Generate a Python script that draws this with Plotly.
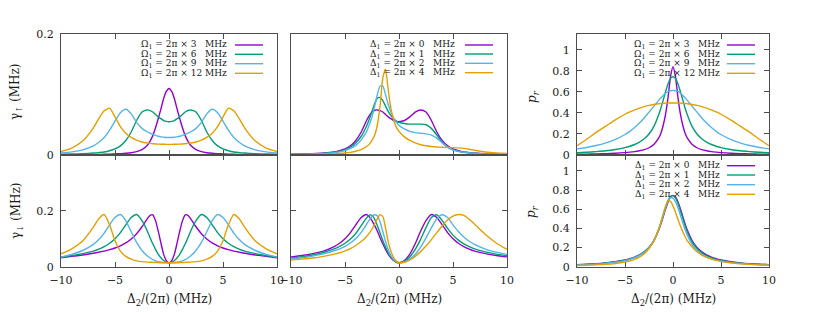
import plotly.graph_objects as go

# ---------------- data ----------------
X_LEFT = [-10, -9, -8, -7, -6.5, -6, -5.5, -5, -4.5, -4, -3.5, -3, -2.5, -2, -1.75, -1.5, -1.25, -1, -0.75, -0.5, -0.25,
          0, 0.25, 0.5, 0.75, 1, 1.25, 1.5, 1.75, 2, 2.5, 3, 3.5, 4, 4.5, 5, 5.5, 6, 6.5, 7, 8, 9, 10]

UP_W3 = [0.0004, 0.0005, 0.0007, 0.0009, 0.001, 0.0012, 0.0015, 0.0018, 0.0022, 0.0028, 0.0038, 0.0055, 0.009, 0.016, 0.023, 0.032, 0.045, 0.060, 0.076, 0.093, 0.105,
         0.110, 0.105, 0.093, 0.076, 0.060, 0.045, 0.032, 0.023, 0.016, 0.009, 0.0055, 0.0038, 0.0028, 0.0022, 0.0018, 0.0015, 0.0012, 0.001, 0.0009, 0.0007, 0.0005, 0.0004]
UP_W6 = [0.0012, 0.0016, 0.0022, 0.0032, 0.004, 0.005, 0.007, 0.010, 0.015, 0.024, 0.038, 0.057, 0.071, 0.0745, 0.0735, 0.071, 0.067, 0.063, 0.060, 0.057, 0.0555,
         0.055, 0.0555, 0.057, 0.060, 0.063, 0.067, 0.071, 0.0735, 0.0745, 0.071, 0.057, 0.038, 0.024, 0.015, 0.010, 0.007, 0.005, 0.004, 0.0032, 0.0022, 0.0016, 0.0012]
UP_W9 = [0.0032, 0.0052, 0.0085, 0.015, 0.021, 0.029, 0.041, 0.056, 0.070, 0.0755, 0.068, 0.054, 0.044, 0.038, 0.036, 0.034, 0.0325, 0.031, 0.030, 0.0295, 0.029,
         0.029, 0.029, 0.0295, 0.030, 0.031, 0.0325, 0.034, 0.036, 0.038, 0.044, 0.054, 0.068, 0.0755, 0.070, 0.056, 0.041, 0.029, 0.021, 0.015, 0.0085, 0.0052, 0.0032]
UP_W12 = [0.0058, 0.0115, 0.023, 0.045, 0.060, 0.073, 0.0775, 0.063, 0.047, 0.036, 0.029, 0.0245, 0.0215, 0.0198, 0.0192, 0.0187, 0.0183, 0.018, 0.0178, 0.0177, 0.0176,
          0.0176, 0.0176, 0.0177, 0.0178, 0.018, 0.0183, 0.0187, 0.0192, 0.0198, 0.0215, 0.0245, 0.029, 0.036, 0.047, 0.063, 0.0775, 0.073, 0.060, 0.045, 0.023, 0.0115, 0.0058]

DN_W3 = [0.032, 0.037, 0.042, 0.048, 0.052, 0.056, 0.061, 0.067, 0.075, 0.085, 0.099, 0.118, 0.143, 0.172, 0.184, 0.186, 0.165, 0.128, 0.085, 0.045, 0.022,
         0.014, 0.022, 0.045, 0.085, 0.128, 0.165, 0.186, 0.184, 0.172, 0.143, 0.118, 0.099, 0.085, 0.075, 0.067, 0.061, 0.056, 0.052, 0.048, 0.042, 0.037, 0.032]
DN_W6 = [0.035, 0.040, 0.047, 0.056, 0.063, 0.072, 0.084, 0.100, 0.122, 0.150, 0.176, 0.187, 0.165, 0.127, 0.104, 0.082, 0.062, 0.045, 0.032, 0.022, 0.016,
         0.014, 0.016, 0.022, 0.032, 0.045, 0.062, 0.082, 0.104, 0.127, 0.165, 0.187, 0.176, 0.150, 0.122, 0.100, 0.084, 0.072, 0.063, 0.056, 0.047, 0.040, 0.035]
DN_W9 = [0.034, 0.044, 0.058, 0.080, 0.097, 0.120, 0.150, 0.176, 0.187, 0.165, 0.125, 0.087, 0.058, 0.038, 0.031, 0.025, 0.021, 0.018, 0.0165, 0.015, 0.0145,
         0.014, 0.0145, 0.015, 0.0165, 0.018, 0.021, 0.025, 0.031, 0.038, 0.058, 0.087, 0.125, 0.165, 0.187, 0.176, 0.150, 0.120, 0.097, 0.080, 0.058, 0.044, 0.034]
DN_W12 = [0.046, 0.064, 0.092, 0.142, 0.172, 0.187, 0.150, 0.093, 0.056, 0.037, 0.027, 0.021, 0.018, 0.0165, 0.016, 0.0155, 0.015, 0.0145, 0.0142, 0.014, 0.014,
          0.014, 0.014, 0.014, 0.0142, 0.0145, 0.015, 0.0155, 0.016, 0.0165, 0.018, 0.021, 0.027, 0.037, 0.056, 0.093, 0.150, 0.187, 0.172, 0.142, 0.092, 0.064, 0.046]

X_MID = [-10, -9, -8, -7, -6, -5.5, -5, -4.5, -4, -3.5, -3, -2.75, -2.5, -2.25, -2, -1.75, -1.5, -1.25, -1, -0.75, -0.5, -0.25,
         0, 0.5, 1, 1.5, 2, 2.5, 3, 3.5, 4, 4.5, 5, 5.5, 6, 6.5, 7, 8, 9, 10]

UP_D0 = [0.0012, 0.0016, 0.0022, 0.0032, 0.005, 0.007, 0.010, 0.015, 0.024, 0.038, 0.057, 0.065, 0.071, 0.074, 0.0745, 0.0735, 0.071, 0.067, 0.063, 0.060, 0.057, 0.0555,
         0.055, 0.057, 0.063, 0.071, 0.0745, 0.071, 0.057, 0.038, 0.024, 0.015, 0.010, 0.007, 0.005, 0.004, 0.0032, 0.0022, 0.0016, 0.0012]
UP_D1 = [0.001, 0.0013, 0.0018, 0.0027, 0.0045, 0.0062, 0.009, 0.013, 0.020, 0.031, 0.048, 0.059, 0.072, 0.085, 0.094, 0.095, 0.090, 0.081, 0.072, 0.065, 0.060, 0.056,
         0.054, 0.052, 0.051, 0.051, 0.051, 0.050, 0.044, 0.033, 0.021, 0.013, 0.0085, 0.006, 0.0045, 0.0035, 0.0028, 0.0019, 0.0014, 0.001]
UP_D2 = [0.0009, 0.0012, 0.0016, 0.0024, 0.0038, 0.0052, 0.0075, 0.011, 0.016, 0.025, 0.039, 0.050, 0.063, 0.081, 0.100, 0.114, 0.114, 0.100, 0.084, 0.071, 0.061, 0.054,
         0.049, 0.043, 0.039, 0.037, 0.036, 0.035, 0.033, 0.028, 0.020, 0.013, 0.0085, 0.006, 0.0045, 0.0035, 0.0028, 0.0019, 0.0014, 0.001]
UP_D4 = [0.0005, 0.0006, 0.0008, 0.0012, 0.0018, 0.0024, 0.0032, 0.0044, 0.0062, 0.009, 0.014, 0.018, 0.024, 0.033, 0.050, 0.082, 0.127, 0.142, 0.108, 0.077, 0.058, 0.046,
         0.039, 0.030, 0.024, 0.020, 0.017, 0.0152, 0.014, 0.0133, 0.0128, 0.0125, 0.0122, 0.0118, 0.011, 0.0096, 0.0078, 0.005, 0.0033, 0.0024]

DN_D0 = [0.035, 0.040, 0.047, 0.056, 0.072, 0.084, 0.100, 0.122, 0.150, 0.176, 0.187, 0.179, 0.165, 0.147, 0.127, 0.104, 0.082, 0.062, 0.045, 0.032, 0.022, 0.016,
         0.014, 0.022, 0.045, 0.082, 0.127, 0.165, 0.187, 0.176, 0.150, 0.122, 0.100, 0.084, 0.072, 0.063, 0.056, 0.047, 0.040, 0.035]
DN_D1 = [0.031, 0.036, 0.042, 0.051, 0.064, 0.073, 0.084, 0.099, 0.119, 0.147, 0.175, 0.185, 0.184, 0.170, 0.147, 0.120, 0.094, 0.070, 0.050, 0.035, 0.024, 0.017,
         0.014, 0.019, 0.035, 0.062, 0.098, 0.140, 0.176, 0.186, 0.165, 0.137, 0.113, 0.095, 0.082, 0.072, 0.064, 0.053, 0.045, 0.039]
DN_D2 = [0.028, 0.032, 0.038, 0.046, 0.057, 0.064, 0.073, 0.085, 0.101, 0.123, 0.152, 0.167, 0.180, 0.186, 0.182, 0.160, 0.126, 0.091, 0.061, 0.040, 0.026, 0.018,
         0.014, 0.017, 0.027, 0.044, 0.070, 0.103, 0.140, 0.172, 0.186, 0.176, 0.150, 0.126, 0.106, 0.091, 0.080, 0.063, 0.052, 0.044]
DN_D4 = [0.024, 0.027, 0.031, 0.037, 0.045, 0.050, 0.057, 0.065, 0.076, 0.090, 0.108, 0.120, 0.135, 0.153, 0.172, 0.186, 0.180, 0.140, 0.090, 0.055, 0.033, 0.020,
         0.014, 0.016, 0.024, 0.037, 0.054, 0.074, 0.097, 0.122, 0.146, 0.167, 0.181, 0.187, 0.184, 0.170, 0.152, 0.115, 0.085, 0.062]

X_RIGHT = [-10, -9, -8, -7, -6, -5, -4.5, -4, -3.5, -3, -2.5, -2, -1.5, -1.25, -1, -0.75, -0.5, -0.25,
           0, 0.25, 0.5, 0.75, 1, 1.25, 1.5, 2, 2.5, 3, 3.5, 4, 4.5, 5, 6, 7, 8, 9, 10]

PR_W3 = [0.007, 0.008, 0.010, 0.013, 0.017, 0.023, 0.027, 0.032, 0.040, 0.051, 0.069, 0.10, 0.16, 0.21, 0.29, 0.40, 0.56, 0.75,
         0.84, 0.75, 0.56, 0.40, 0.29, 0.21, 0.16, 0.10, 0.069, 0.051, 0.040, 0.032, 0.027, 0.023, 0.017, 0.013, 0.010, 0.008, 0.007]
PR_W6 = [0.022, 0.026, 0.032, 0.040, 0.052, 0.070, 0.083, 0.10, 0.123, 0.155, 0.20, 0.27, 0.38, 0.45, 0.53, 0.61, 0.68, 0.73,
         0.745, 0.73, 0.68, 0.61, 0.53, 0.45, 0.38, 0.27, 0.20, 0.155, 0.123, 0.10, 0.083, 0.070, 0.052, 0.040, 0.032, 0.026, 0.022]
PR_W9 = [0.058, 0.072, 0.090, 0.115, 0.148, 0.195, 0.225, 0.262, 0.305, 0.353, 0.408, 0.463, 0.52, 0.545, 0.57, 0.59, 0.605, 0.612,
         0.615, 0.612, 0.605, 0.59, 0.57, 0.545, 0.52, 0.463, 0.408, 0.353, 0.305, 0.262, 0.225, 0.195, 0.148, 0.115, 0.090, 0.072, 0.058]
PR_W12 = [0.088, 0.150, 0.215, 0.275, 0.335, 0.388, 0.410, 0.430, 0.447, 0.461, 0.472, 0.481, 0.488, 0.490, 0.492, 0.494, 0.495, 0.495,
          0.495, 0.495, 0.495, 0.494, 0.492, 0.490, 0.488, 0.481, 0.472, 0.461, 0.447, 0.430, 0.410, 0.388, 0.335, 0.275, 0.215, 0.150, 0.088]

PR_D0 = [0.022, 0.026, 0.032, 0.040, 0.052, 0.070, 0.083, 0.10, 0.123, 0.155, 0.20, 0.27, 0.38, 0.45, 0.53, 0.61, 0.68, 0.73,
         0.745, 0.73, 0.68, 0.61, 0.53, 0.45, 0.38, 0.27, 0.20, 0.155, 0.123, 0.10, 0.083, 0.070, 0.052, 0.040, 0.032, 0.026, 0.022]
PR_D1 = [0.020, 0.024, 0.030, 0.038, 0.050, 0.068, 0.081, 0.098, 0.122, 0.155, 0.20, 0.272, 0.385, 0.46, 0.54, 0.62, 0.69, 0.735,
         0.74, 0.72, 0.665, 0.59, 0.51, 0.43, 0.36, 0.255, 0.19, 0.145, 0.115, 0.093, 0.077, 0.065, 0.048, 0.037, 0.029, 0.024, 0.020]
PR_D2 = [0.018, 0.022, 0.027, 0.035, 0.046, 0.064, 0.077, 0.094, 0.118, 0.150, 0.197, 0.27, 0.385, 0.46, 0.545, 0.625, 0.69, 0.722,
         0.715, 0.68, 0.62, 0.545, 0.465, 0.39, 0.325, 0.228, 0.168, 0.128, 0.101, 0.082, 0.068, 0.057, 0.042, 0.032, 0.025, 0.021, 0.017]
PR_D4 = [0.012, 0.015, 0.019, 0.025, 0.034, 0.049, 0.060, 0.076, 0.10, 0.135, 0.19, 0.27, 0.39, 0.47, 0.56, 0.64, 0.695, 0.68,
         0.635, 0.57, 0.50, 0.43, 0.37, 0.315, 0.27, 0.205, 0.157, 0.122, 0.098, 0.080, 0.066, 0.056, 0.041, 0.031, 0.024, 0.019, 0.015]

OMEGA_LABELS = ["3", "6", "9", "12"]
DELTA_LABELS = ["0", "1", "2", "4"]
X_TICKS = [-10, -5, 0, 5, 10]
X_TICKTEXT = ["\u221210", "\u22125", "0", "5", "10"]

# ---------------- style / layout ----------------
W, H = 831, 312
COLORS = ["#9400D3", "#009E73", "#56B4E9", "#E69F00"]
FONT = "DejaVu Serif"
AX = "#4d4d4d"
TXT = "#1a1a1a"


def px(x):
    return x / W


def py(y):
    return 1 - y / H


COLS = [(61, 277), (291, 507), (577, 769)]
ROWS = [(34, 155), (155, 266.7)]

panels = [
    (0, 0, X_LEFT, [UP_W3, UP_W6, UP_W9, UP_W12], [0, 0.2], [0, 0.2], ["0", "0.2"], True, False),
    (0, 1, X_MID, [UP_D0, UP_D1, UP_D2, UP_D4], [0, 0.2], [0, 0.2], ["0", "0.2"], False, False),
    (0, 2, X_RIGHT, [PR_W3, PR_W6, PR_W9, PR_W12], [0, 1.152], [0, 0.2, 0.4, 0.6, 0.8, 1],
     ["0", "0.2", "0.4", "0.6", "0.8", "1"], True, False),
    (1, 0, X_LEFT, [DN_W3, DN_W6, DN_W9, DN_W12], [0, 0.4], [0, 0.2], ["0", "0.2"], True, True),
    (1, 1, X_MID, [DN_D0, DN_D1, DN_D2, DN_D4], [0, 0.4], [0, 0.2], ["0", "0.2"], False, True),
    (1, 2, X_RIGHT, [PR_D0, PR_D1, PR_D2, PR_D4], [0, 1.1667], [0, 0.2, 0.4, 0.6, 0.8, 1],
     ["0", "0.2", "0.4", "0.6", "0.8", "1"], True, True),
]

fig = go.Figure()
layout = dict(
    template="none",
    width=W, height=H, margin=dict(l=0, r=0, t=0, b=0, autoexpand=False),
    paper_bgcolor="white", plot_bgcolor="white", showlegend=False,
    font=dict(family=FONT, size=11, color=TXT),
)

for i, (r, c, xd, series, yr, yt, ytt, showy, showx) in enumerate(panels):
    n = "" if i == 0 else str(i + 1)
    x0, x1 = COLS[c]
    ytop, ybot = ROWS[r]
    for s, col in zip(series, COLORS):
        fig.add_trace(go.Scatter(
            x=xd, y=s, mode="lines", xaxis="x" + n, yaxis="y" + n,
            line=dict(color=col, width=1.4, shape="spline", smoothing=0.6),
            hoverinfo="skip"))
    common = dict(showline=True, linecolor=AX, linewidth=1, mirror="ticks",
                  ticks="inside", ticklen=5, tickcolor=AX, tickwidth=1,
                  showgrid=False, zeroline=False, layer="below traces", automargin=False,
                  tickfont=dict(family=FONT, size=11, color=TXT))
    layout["xaxis" + n] = dict(common, domain=[px(x0), px(x1)], anchor="y" + n,
                               range=[-10, 10], tickmode="array", tickvals=X_TICKS,
                               ticktext=X_TICKTEXT, showticklabels=showx,
                               ticklabelstandoff=3)
    layout["yaxis" + n] = dict(common, domain=[py(ybot), py(ytop)], anchor="x" + n,
                               range=yr, tickmode="array", tickvals=yt, ticktext=ytt,
                               showticklabels=showy, ticklabelstandoff=4)

fig.update_layout(**layout)

annotations = []
shapes = []


def add_legend(labels, sym, x_text_right, lx0, lx1, ys):
    for lab, col, y in zip(labels, COLORS, ys):
        pad = "\u2007" if len(lab) == 1 else ""
        txt = sym + "<sub>1</sub> = 2\u03c0 \u00d7 " + lab + pad + "\u00a0MHz"
        annotations.append(dict(x=px(x_text_right), y=py(y), xref="paper", yref="paper",
                                text=txt, showarrow=False, xanchor="right", yanchor="middle",
                                font=dict(family=FONT, size=9, color=TXT)))
        shapes.append(dict(type="line", xref="paper", yref="paper",
                           x0=px(lx0), x1=px(lx1), y0=py(y), y1=py(y),
                           line=dict(color=col, width=1.4)))


add_legend(OMEGA_LABELS, "\u03a9", 229, 235, 263, [45, 54.3, 63.7, 73.3])
add_legend(DELTA_LABELS, "\u0394", 457, 465, 493, [45, 54, 63.3, 72.7])
add_legend(OMEGA_LABELS, "\u03a9", 722, 727, 755, [45, 54.3, 63.7, 73.3])
add_legend(DELTA_LABELS, "\u0394", 722, 727, 755, [165.7, 175, 184.7, 194.3])

# axis titles
xt = "\u0394<sub>2</sub>/(2\u03c0) (MHz)"
for cx in (169, 399, 673):
    annotations.append(dict(x=px(cx), y=py(300), xref="paper", yref="paper", text=xt,
                            showarrow=False, xanchor="center", yanchor="middle",
                            font=dict(family=FONT, size=12, color=TXT)))
for txt, x, y in [("\u03b3<sub>\u2191</sub> (MHz)", 16, 92), ("\u03b3<sub>\u2193</sub> (MHz)", 17, 211),
                  ("<i>p<sub>r</sub></i>", 533, 97), ("<i>p<sub>r</sub></i>", 532, 212)]:
    annotations.append(dict(x=px(x), y=py(y), xref="paper", yref="paper", text=txt,
                            showarrow=False, textangle=-90, xanchor="center", yanchor="middle",
                            font=dict(family=FONT, size=12, color=TXT)))

fig.update_layout(annotations=annotations, shapes=shapes)
fig.write_html("out.html",
               config={"displayModeBar": False, "staticPlot": True},
               post_script="document.body.style.margin='0';document.body.style.padding='0';"
                           "document.body.style.overflow='hidden';")
